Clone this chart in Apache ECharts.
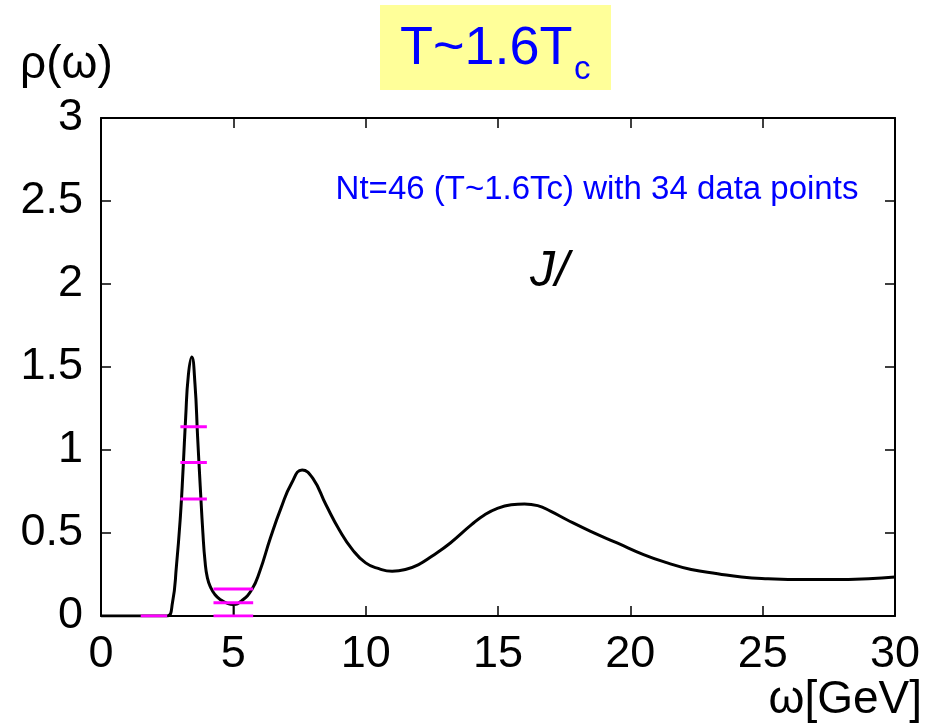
<!DOCTYPE html>
<html><head><meta charset="utf-8">
<script src="https://cdn.jsdelivr.net/npm/echarts@6/dist/echarts.min.js"></script>
<style>html,body{margin:0;padding:0;background:#fff}#c{width:929px;height:725px}</style>
</head><body><div id="c"></div>
<script>
// Spectral function curve (omega [GeV], rho)
const omega = [0, 1, 2, 2.5, 2.7, 2.85, 3.0, 3.1, 3.2, 3.3, 3.43, 3.55, 3.65, 3.75, 3.85, 3.93, 4.02, 4.15, 4.3, 4.5, 4.8, 5.0, 5.3, 5.7, 6.0, 6.4, 6.8, 7.2, 7.6, 8.0, 8.5, 9.0, 9.5, 10.0, 10.5, 11.0, 11.5, 12.0, 12.5, 13.2, 14.0, 14.5, 15.0, 15.5, 16.0, 16.5, 17.0, 17.6, 18.5, 19.5, 20.5, 21.4, 22.3, 23.3, 24.2, 25.2, 26.5, 27.7, 29, 30];
const rho = [0, 0, 0, 0, 0.08, 0.3, 0.6, 0.88, 1.2, 1.45, 1.56, 1.4, 1.08, 0.78, 0.5, 0.33, 0.23, 0.17, 0.13, 0.1, 0.075, 0.07, 0.09, 0.16, 0.27, 0.47, 0.65, 0.8, 0.88, 0.83, 0.67, 0.52, 0.4, 0.32, 0.285, 0.27, 0.28, 0.31, 0.36, 0.44, 0.55, 0.61, 0.65, 0.67, 0.675, 0.665, 0.63, 0.58, 0.51, 0.44, 0.37, 0.32, 0.28, 0.255, 0.235, 0.225, 0.22, 0.22, 0.225, 0.235];
// Horizontal error bars (bin centre, half width, value)
const binCenter = [2.0, 3.5, 3.5, 3.5, 5.0, 5.0, 5.0];
const binHalf = [0.5, 0.5, 0.5, 0.5, 0.75, 0.75, 0.75];
const binValue = [0.0, 1.14, 0.925, 0.705, 0.163, 0.08, 0.0];
// vertical error bar at omega=5
const vErrX = [5.0];
const vErrLo = [0.0];
const vErrHi = [0.08];

const curve = omega.map((x, i) => [x, rho[i]]);
const hbars = [];
binCenter.forEach((c, i) => { hbars.push([c - binHalf[i], binValue[i]]); hbars.push([c + binHalf[i], binValue[i]]); hbars.push(['-', '-']); });
const vbars = [];
vErrX.forEach((x, i) => { vbars.push([x, vErrLo[i]]); vbars.push([x, vErrHi[i]]); vbars.push(['-', '-']); });

const FONT = 'Liberation Sans';
const chart = echarts.init(document.getElementById('c'));
const axisLine = { show: true, onZero: false, lineStyle: { color: '#000', width: 2 } };
const tick = { show: true, inside: true, length: 10, lineStyle: { color: '#000', width: 1.5 } };
chart.setOption({
  animation: false,
  grid: { left: 101, top: 118, right: 34, bottom: 109, show: false },
  xAxis: [
    { type: 'value', min: 0, max: 30, interval: 5, position: 'bottom', axisLine, axisTick: tick, splitLine: { show: false },
      axisLabel: { color: '#000', fontFamily: FONT, fontSize: 45, margin: 16 } },
    { type: 'value', min: 0, max: 30, interval: 5, position: 'top', axisLine, axisTick: tick, splitLine: { show: false }, axisLabel: { show: false } }
  ],
  yAxis: [
    { type: 'value', min: 0, max: 3, interval: 0.5, position: 'left', axisLine, axisTick: tick, splitLine: { show: false },
      axisLabel: { color: '#000', fontFamily: FONT, fontSize: 45, margin: 18 } },
    { type: 'value', min: 0, max: 3, interval: 0.5, position: 'right', axisLine, axisTick: tick, splitLine: { show: false }, axisLabel: { show: false } }
  ],
  series: [
    { type: 'line', data: curve, showSymbol: false, smooth: 0.5, lineStyle: { color: '#000', width: 3 }, z: 3 },
    { type: 'line', data: vbars, showSymbol: false, connectNulls: false, lineStyle: { color: '#000', width: 1.5 }, z: 2 },
    { type: 'line', data: hbars, showSymbol: false, connectNulls: false, lineStyle: { color: '#ff00ff', width: 3 }, z: 4 }
  ],
  graphic: [
    { type: 'rect', shape: { x: 380, y: 5, width: 231, height: 85 }, style: { fill: '#ffff99' } },
    { type: 'text', x: 400, y: 49, style: { text: 'T~1.6T', fontFamily: FONT, fontSize: 54, fill: '#0000ff', verticalAlign: 'middle' } },
    { type: 'text', x: 574, y: 70, style: { text: 'c', fontFamily: FONT, fontSize: 33, fill: '#0000ff', verticalAlign: 'middle' } },
    { type: 'text', x: 20, y: 65, style: { text: 'ρ(ω)', fontFamily: FONT, fontSize: 46, fill: '#000', verticalAlign: 'middle' } },
    { type: 'text', x: 597, y: 190, style: { text: 'Nt=46 (T~1.6Tc) with 34 data points', fontFamily: FONT, fontSize: 33, fill: '#0000ff', align: 'center', verticalAlign: 'middle' } },
    { type: 'text', x: 530, y: 272, style: { text: 'J/', fontFamily: FONT, fontSize: 50, fontStyle: 'italic', fill: '#000', verticalAlign: 'middle' } },
    { type: 'text', x: 922, y: 700, style: { text: 'ω[GeV]', fontFamily: FONT, fontSize: 46, fill: '#000', align: 'right', verticalAlign: 'middle' } }
  ]
});
</script></body></html>
